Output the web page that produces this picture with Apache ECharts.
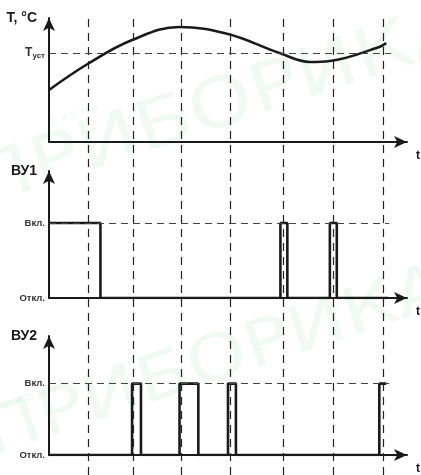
<!DOCTYPE html>
<html><head><meta charset="utf-8">
<script src="https://cdn.jsdelivr.net/npm/echarts@6/dist/echarts.min.js"></script>
<style>html,body{margin:0;padding:0;background:#fff}#c{width:421px;height:475px}</style>
</head><body><div id="c"></div>
<script>
// time axis (schematic units)
const tMax = 362;
const gridTimes = [39, 84, 132, 181, 234, 284, 334];
// temperature curve
const tempTimes = [0, 39, 84, 132, 181, 233, 264, 284, 334, 341];
const tempValues = [52, 78, 102, 115, 108, 89, 80, 81, 95, 99];
const tSet = 89;
// relay ВУ1 (1 = Вкл., 0 = Откл.)
const vu1Times = [0, 52, 234, 241, 284, 291, 343];
const vu1States = [1, 0, 1, 0, 1, 0, 0];
// relay ВУ2
const vu2Times = [0, 84, 93, 132, 151, 181, 189, 334, 341];
const vu2States = [0, 1, 0, 1, 0, 1, 0, 1, 1];
const stateLabels = ['Откл.', 'Вкл.'];
const panelNames = ['T, °C', 'ВУ1', 'ВУ2'];
const watermark = 'ПРИБОРИКА';
const watermarkSmall = 'ф и р м а';

const ink = '#1a1a1a';
const zip = (a, b) => a.map((v, i) => [v, b[i]]);
const chart = echarts.init(document.getElementById('c'), null, {renderer: 'canvas'});

const grids = [
  {left: 49, right: 10, top: 18, bottom: 333},
  {left: 49, right: 10, top: 171, bottom: 177},
  {left: 49, right: 10, top: 336, bottom: 14},
  {left: 49, right: 10, top: 18, bottom: 0}
];

function xAx(i, show) {
  return {
    gridIndex: i, type: 'value', min: 0, max: tMax, show: show,
    axisLine: {show: true, symbol: ['none', 'arrow'], symbolSize: [9, 13], lineStyle: {color: ink, width: 2}},
    axisTick: {show: false}, axisLabel: {show: false}, splitLine: {show: false},
    name: 't', nameLocation: 'end', nameGap: 0,
    nameTextStyle: {fontFamily: 'Liberation Sans', fontWeight: 'bold', fontSize: 12, color: ink, verticalAlign: 'top', padding: [8, 0, 0, 9]}
  };
}
const nameStyle = {fontFamily: 'Liberation Sans', fontWeight: 'bold', fontSize: 14, color: ink, align: 'right', verticalAlign: 'middle', padding: [0, 12, 0, 0]};
function yState(i, max) {
  return {
    gridIndex: i, type: 'value', min: 0, max: max, interval: 1,
    axisLine: {show: true, onZero: false, symbol: ['none', 'arrow'], symbolSize: [9, 13], lineStyle: {color: ink, width: 2}},
    axisTick: {show: false}, splitLine: {show: false},
    axisLabel: {formatter: v => (v === 0 || v === 1) ? stateLabels[v] : '', fontFamily: 'Liberation Sans', fontWeight: 'bold', fontSize: 9.5, color: '#333', margin: 4},
    name: panelNames[i], nameLocation: 'end', nameGap: 0, nameTextStyle: nameStyle
  };
}

const dashH = {color: '#444', width: 1.2, type: [7, 5]};
const wm = 'rgba(0,160,50,0.06)';
const wmText = (text, x, y, size, sx) => ({type: 'text', z: -100, silent: true, rotation: 0.32, x: x, y: y, scaleX: sx,
  style: {text: text, font: size + 'px "DejaVu Sans"', fill: wm, verticalAlign: 'bottom'}});

const option = {
  animation: false,
  backgroundColor: '#fff',
  graphic: [
    wmText(watermark, -14, 222, 68, 1.2),
    wmText(watermarkSmall, 50, 128, 11, 1),
    wmText(watermark, -4, 470, 64, 1.2),
    wmText(watermarkSmall, 4, 412, 12, 1)
  ],
  grid: grids,
  xAxis: [xAx(0, true), xAx(1, true), xAx(2, true), xAx(3, false)],
  yAxis: [
    {
      gridIndex: 0, type: 'value', min: 0, max: 124, interval: tSet,
      axisLine: {show: true, onZero: false, symbol: ['none', 'arrow'], symbolSize: [9, 13], lineStyle: {color: ink, width: 2}},
      axisTick: {show: false}, splitLine: {show: false},
      axisLabel: {formatter: v => v === tSet ? '{a|T}{b|уст}' : '', margin: 4,
        rich: {a: {fontFamily: 'Liberation Sans', fontWeight: 'bold', fontSize: 12, color: '#333'},
               b: {fontFamily: 'Liberation Sans', fontWeight: 'bold', fontSize: 8, color: '#333', verticalAlign: 'bottom', padding: [6, 0, 0, 0]}}},
      name: panelNames[0], nameLocation: 'end', nameGap: 0, nameTextStyle: nameStyle
    },
    yState(1, 127 / 75),
    yState(2, 125 / 75),
    {gridIndex: 3, type: 'value', min: 0, max: 1, show: false}
  ],
  series: [
    {type: 'line', xAxisIndex: 3, yAxisIndex: 3, data: [], silent: true,
     markLine: {silent: true, symbol: 'none', label: {show: false}, lineStyle: {color: '#222', width: 1.2, type: [8, 6]},
       data: gridTimes.map(t => ({xAxis: t}))}},
    {type: 'line', xAxisIndex: 0, yAxisIndex: 0, data: zip(tempTimes, tempValues), smooth: 0.4, showSymbol: false,
     lineStyle: {color: ink, width: 2.6},
     markLine: {silent: true, symbol: 'none', label: {show: false}, lineStyle: dashH,
       data: [[{coord: [0, tSet]}, {coord: [346, tSet]}]]}},
    {type: 'line', xAxisIndex: 1, yAxisIndex: 1, data: zip(vu1Times, vu1States), step: 'end', showSymbol: false,
     lineStyle: {color: ink, width: 2.6},
     markLine: {silent: true, symbol: 'none', label: {show: false}, lineStyle: dashH,
       data: [[{coord: [0, 1]}, {coord: [344, 1]}]]}},
    {type: 'line', xAxisIndex: 2, yAxisIndex: 2, data: zip(vu2Times, vu2States), step: 'end', showSymbol: false,
     lineStyle: {color: ink, width: 2.6},
     markLine: {silent: true, symbol: 'none', label: {show: false}, lineStyle: dashH,
       data: [[{coord: [0, 1]}, {coord: [344, 1]}]]}}
  ]
};
chart.setOption(option);
</script></body></html>
